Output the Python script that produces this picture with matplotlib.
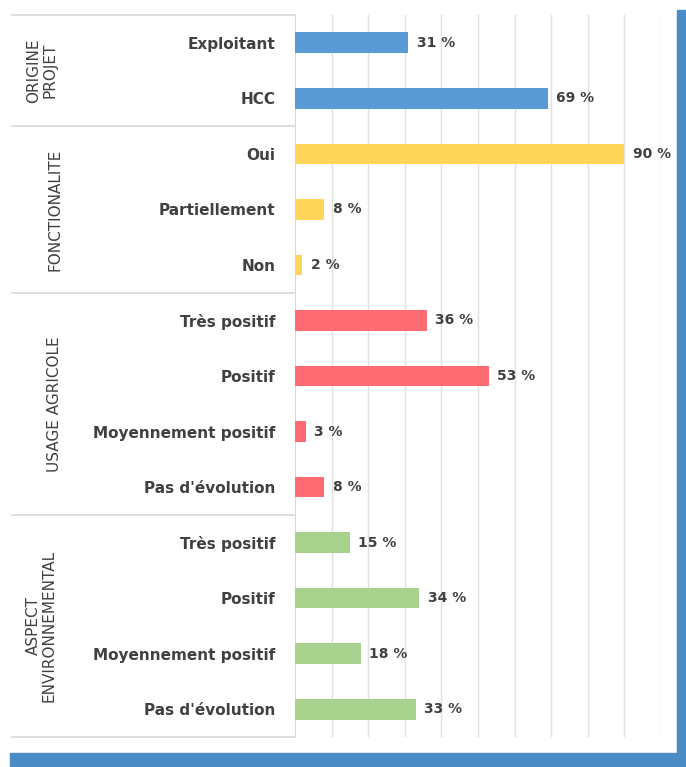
import numpy as np
import matplotlib.pyplot as plt
import matplotlib.patches as patches

# Donnees
categories = ['Exploitant', 'HCC',
              'Oui', 'Partiellement', 'Non',
              'Très positif', 'Positif', 'Moyennement positif', "Pas d'évolution",
              'Très positif', 'Positif', 'Moyennement positif', "Pas d'évolution"]
valeurs = [31, 69, 90, 8, 2, 36, 53, 3, 8, 15, 34, 18, 33]
groupes = ['ORIGINE\nPROJET', 'FONCTIONALITE', 'USAGE AGRICOLE', 'ASPECT\nENVIRONNEMENTAL']
taille_groupes = [2, 3, 4, 4]
couleurs_groupes = ['#5B9BD5', '#FFD55A', '#FF6B72', '#A9D18E']

W, H = 686, 767
fig = plt.figure(figsize=(W/100, H/100), dpi=100)
ax = fig.add_axes([295/W, 1-737/H, 366/W, 722/H])

couleurs = []
for c, n in zip(couleurs_groupes, taille_groupes):
    couleurs += [c]*n

y = np.arange(len(categories))
ax.barh(y, valeurs, height=0.37, color=couleurs, zorder=3)
for yi, v in zip(y, valeurs):
    ax.annotate(f'{v} %', (v, yi), xytext=(6, 0), textcoords='offset points',
                va='center', ha='left', fontsize=10, fontweight='bold', color='#404040')

ax.set_xlim(0, 100)
ax.set_ylim(len(categories)-0.5, -0.5)
ax.set_xticks(np.arange(10, 101, 10))
ax.tick_params(axis='x', length=0, labelbottom=False)
ax.grid(axis='x', color='#e0e0e0', linewidth=1, zorder=0)
ax.set_yticks(y)
ax.set_yticklabels(categories, fontsize=11, fontweight='bold', color='#404040')
ax.tick_params(axis='y', length=0, pad=14)
for s in ['top', 'right', 'bottom']:
    ax.spines[s].set_visible(False)
ax.spines['left'].set_color('#d9d9d9')

# separateurs de groupes et titres
trans = ax.get_yaxis_transform()
x0 = (12-295)/366
bornes = np.concatenate([[0], np.cumsum(taille_groupes)]) - 0.5
for b in bornes:
    ax.plot([x0, 0], [b, b], color='#d9d9d9', lw=1.2, transform=trans, clip_on=False)
pos_x = [42, 55, 55, 41]
for g, a, b, px in zip(groupes, bornes[:-1], bornes[1:], pos_x):
    ax.text((px-295)/366, (a+b)/2, g, rotation=90, ha='center', va='center',
            fontsize=11, color='#404040', transform=trans, linespacing=1.1,
            multialignment='center')

# cadre bleu
fig.patches.append(patches.Rectangle((677/W, 0), 9/W, 1-10/H, color='#4A8CC4',
                                     transform=fig.transFigure))
fig.patches.append(patches.Rectangle((10/W, 0), 1-10/W, 14/H, color='#4A8CC4',
                                     transform=fig.transFigure))

fig.savefig('out.png', dpi=100)
